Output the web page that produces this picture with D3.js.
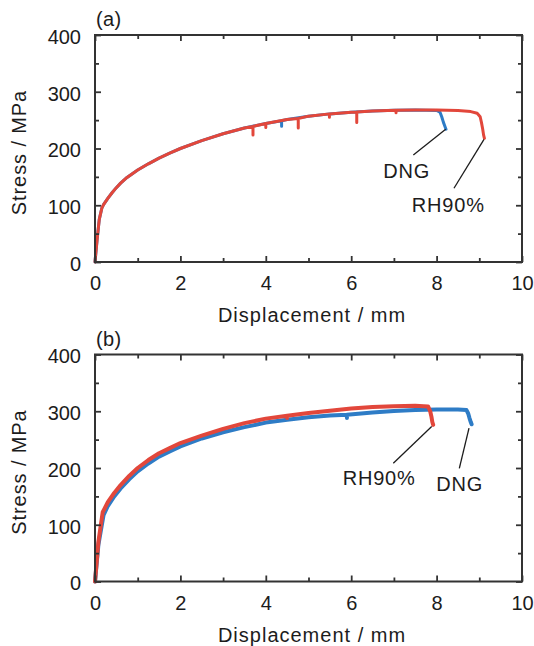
<!DOCTYPE html>
<html><head><meta charset="utf-8">
<script src="https://cdn.jsdelivr.net/npm/d3@7/dist/d3.min.js"></script>
<style>
body{margin:0;background:#fff}
svg{display:block}
text{font-family:"Liberation Sans",Arial,Helvetica,sans-serif;fill:#1c1c1c}
</style>
</head><body><svg id="chart" width="534" height="646"></svg>
<script>
// ---- data ----
const panelLabels = ["(a)", "(b)"];
const xMajorTicks = [0, 2, 4, 6, 8, 10];
const xMinorTicks = [1, 3, 5, 7, 9];
const yMajorTicks = [0, 100, 200, 300, 400];
const yMinorTicks = [50, 150, 250, 350];
const xTitle = "Displacement / mm";
const yTitle = "Stress / MPa";
const seriesNames = ["DNG", "RH90%"];

// panel (a)
const aDngDisp   = [0, 0.05, 0.1, 0.16, 0.2, 0.3, 0.4, 0.5, 0.6, 0.75, 0.9, 1.0, 1.25, 1.5, 1.75, 2.0, 2.5, 3.0, 3.5, 4.0, 4.37, 4.37, 4.37, 4.5, 5.0, 5.5, 6.0, 6.5, 7.0, 7.5, 8.0, 8.08, 8.12, 8.16, 8.2, 8.22];
const aDngStress = [0, 40, 75, 95, 101, 112, 122, 131, 139, 149, 157, 162, 173, 183, 192, 200, 214, 226, 236, 244, 249, 239, 249, 251, 257, 261, 264, 266, 267.5, 268, 267, 264, 256, 246, 238, 234];
const aRhDisp    = [0, 0.05, 0.1, 0.16, 0.2, 0.3, 0.4, 0.5, 0.6, 0.75, 0.9, 1.0, 1.25, 1.5, 1.75, 2.0, 2.5, 3.0, 3.5, 3.7, 3.7, 3.7, 4.0, 4.0, 4.0, 4.5, 4.76, 4.76, 4.76, 5.0, 5.49, 5.49, 5.49, 6.0, 6.13, 6.13, 6.13, 6.5, 7.05, 7.05, 7.05, 7.5, 8.0, 8.5, 8.8, 8.95, 9.02, 9.05, 9.08, 9.1, 9.12];
const aRhStress  = [0, 40, 75, 95, 101, 112, 122, 131, 139, 149, 157, 162, 173, 183, 192, 200, 214, 226, 236, 239, 224, 239, 244, 237, 244, 251, 253, 236, 253, 257, 261, 255, 261, 264, 264.5, 246, 264.5, 266, 267.5, 263, 267.5, 268, 268, 267, 265, 262, 256, 246, 234, 224, 218];

// panel (b)
const bDngDisp   = [0, 0.08, 0.2, 0.3, 0.45, 0.6, 0.8, 1.0, 1.25, 1.5, 1.75, 2.0, 2.5, 3.0, 3.5, 4.0, 4.5, 5.0, 5.5, 5.9, 5.9, 5.9, 6.5, 7.0, 7.5, 8.0, 8.5, 8.7, 8.74, 8.77, 8.8, 8.82];
const bDngStress = [0, 65, 117, 133, 150, 164, 180, 194, 208, 220, 229, 238, 252, 263, 272, 280, 285, 289.5, 292.5, 294, 288, 294, 298, 300.5, 302, 303, 303, 302, 296, 288, 281, 277];
const bRhDisp    = [0, 0.08, 0.18, 0.3, 0.45, 0.6, 0.8, 1.0, 1.25, 1.5, 1.75, 2.0, 2.5, 3.0, 3.5, 4.0, 4.5, 4.5, 4.5, 5.0, 5.5, 6.0, 6.5, 7.0, 7.5, 7.8, 7.85, 7.88, 7.9, 7.92];
const bRhStress  = [0, 70, 122, 140, 156, 170, 186, 200, 214, 226, 235, 244, 257, 269, 279, 287, 292, 288, 292, 297, 301, 305, 307.5, 309, 309.5, 308.5, 300, 290, 281, 276];

// annotations: label, text anchor (disp, stress), leader start, leader end
const aAnnoLabel = ["DNG", "RH90%"];
const aAnnoText  = [[6.75, 147.5], [7.42, 88.6]];
const aAnnoFrom  = [[7.455, 188.5], [8.407, 129.9]];
const aAnnoTo    = [[8.213, 233.8], [9.11, 216.2]];
const bAnnoLabel = ["RH90%", "DNG"];
const bAnnoText  = [[5.80, 169.9], [7.99, 159.3]];
const bAnnoFrom  = [[6.986, 208.3], [8.532, 199.5]];
const bAnnoTo    = [[7.885, 273.1], [8.759, 270.3]];

// ---- layout / style ----
const colors = {"DNG": "#2e7cc6", "RH90%": "#e2473b"};
const left = 95, plotW = 427, plotH = 227;
const panelTops = [35, 354.5];
const strokeW = [3, 4];

const svg = d3.select("#chart");
const x = d3.scaleLinear().domain([0, 10]).range([0, plotW]);
const y = d3.scaleLinear().domain([0, 400]).range([plotH, 0]);

const panels = [
  {series: [[aDngDisp, aDngStress, "DNG"], [aRhDisp, aRhStress, "RH90%"]],
   anno: [aAnnoLabel, aAnnoText, aAnnoFrom, aAnnoTo]},
  {series: [[bDngDisp, bDngStress, "DNG"], [bRhDisp, bRhStress, "RH90%"]],
   anno: [bAnnoLabel, bAnnoText, bAnnoFrom, bAnnoTo]}
];

panels.forEach((p, i) => {
  const g = svg.append("g").attr("transform", `translate(${left},${panelTops[i]})`);

  // curves
  const line = d3.line().x(d => x(d[0])).y(d => y(d[1]));
  p.series.forEach(([xs, ys, name]) => {
    const pts = xs.map((v, k) => [v, ys[k]]);
    g.append("path").datum(pts)
      .attr("d", line)
      .attr("fill", "none")
      .attr("stroke", colors[name])
      .attr("stroke-width", strokeW[i])
      .attr("stroke-linejoin", "round")
      .attr("stroke-linecap", "round");
  });

  // frame + inward ticks
  const axisColor = "#333";
  const addAxis = (axisGen, tr, labels) => {
    const ag = g.append("g").attr("transform", tr).call(axisGen);
    ag.select(".domain").remove();
    ag.selectAll("line").attr("stroke", axisColor).attr("stroke-width", 1.8);
    if (!labels) ag.selectAll("text").remove();
    else ag.selectAll("text").attr("font-size", 20).attr("fill", "#1c1c1c")
      .attr("font-family", '"Liberation Sans",Arial,sans-serif');
    return ag;
  };
  const fmt = d3.format("d");
  addAxis(d3.axisBottom(x).tickValues(xMajorTicks).tickSize(-6).tickPadding(14).tickFormat(fmt), `translate(0,${plotH})`, true);
  addAxis(d3.axisBottom(x).tickValues(xMinorTicks).tickSize(-4), `translate(0,${plotH})`, false);
  addAxis(d3.axisTop(x).tickValues(xMajorTicks).tickSize(-6), `translate(0,0)`, false);
  addAxis(d3.axisTop(x).tickValues(xMinorTicks).tickSize(-4), `translate(0,0)`, false);
  const ly = addAxis(d3.axisLeft(y).tickValues(yMajorTicks).tickSize(-6).tickPadding(14).tickFormat(fmt), `translate(0,0)`, true);
  ly.selectAll("text").attr("dy", "0.42em");
  addAxis(d3.axisLeft(y).tickValues(yMinorTicks).tickSize(-4), `translate(0,0)`, false);
  addAxis(d3.axisRight(y).tickValues(yMajorTicks).tickSize(-6), `translate(${plotW},0)`, false);
  addAxis(d3.axisRight(y).tickValues(yMinorTicks).tickSize(-4), `translate(${plotW},0)`, false);

  g.append("rect").attr("x", 0).attr("y", 0).attr("width", plotW).attr("height", plotH)
    .attr("fill", "none").attr("stroke", axisColor).attr("stroke-width", 2);

  // annotations
  const [labs, txt, from, to] = p.anno;
  labs.forEach((lab, k) => {
    g.append("line")
      .attr("x1", x(from[k][0])).attr("y1", y(from[k][1]))
      .attr("x2", x(to[k][0])).attr("y2", y(to[k][1]))
      .attr("stroke", "#1c1c1c").attr("stroke-width", 1.3);
    g.append("text").attr("x", x(txt[k][0])).attr("y", y(txt[k][1]))
      .attr("font-size", 20).attr("letter-spacing", "0.8px").text(lab);
  });

  // titles
  g.append("text").attr("x", 217).attr("y", plotH + 60)
    .attr("text-anchor", "middle").attr("font-size", 20).attr("letter-spacing", "1px")
    .text(xTitle);
  g.append("text").attr("transform", `translate(${26 - left},${plotH / 2 + 4}) rotate(-90)`)
    .attr("text-anchor", "middle").attr("font-size", 20).attr("letter-spacing", "0.9px")
    .text(yTitle);
  g.append("text").attr("x", 1).attr("y", -9).attr("font-size", 20).attr("letter-spacing", "0.3px")
    .text(panelLabels[i]);
});
</script>
</body></html>
